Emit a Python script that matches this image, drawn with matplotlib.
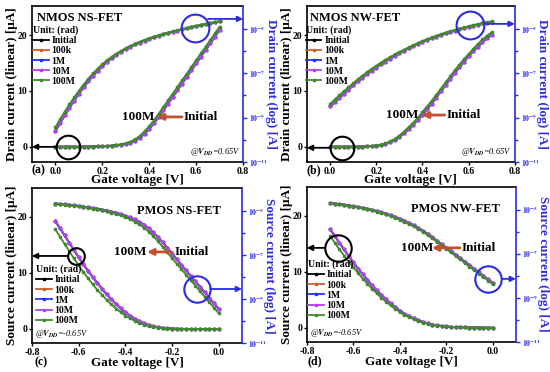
import numpy as np
import matplotlib
matplotlib.use("Agg")
import matplotlib.pyplot as plt
from matplotlib.ticker import FixedLocator, FuncFormatter, NullFormatter

plt.rcParams["font.family"] = "Liberation Serif"
plt.rcParams["font.weight"] = "bold"
plt.rcParams["mathtext.fontset"] = "stix"

# ================================
# Data
# ================================
series_labels = ["Initial", "100k", "1M", "10M", "100M"]
series_colors = ["#000000", "#c8602a", "#2030ff", "#b040f0", "#3f8a2c"]

vg_n = [0.00, 0.02, 0.04, 0.06, 0.08, 0.10, 0.12, 0.14, 0.16, 0.18, 0.20, 0.22,
        0.24, 0.26, 0.28, 0.30, 0.32, 0.34, 0.36, 0.38, 0.40, 0.42, 0.44, 0.46,
        0.48, 0.50, 0.52, 0.54, 0.56, 0.58, 0.60, 0.62, 0.64, 0.66, 0.68, 0.70]
vg_p = [-0.70, -0.68, -0.66, -0.64, -0.62, -0.60, -0.58, -0.56, -0.54, -0.52, -0.50, -0.48,
        -0.46, -0.44, -0.42, -0.40, -0.38, -0.36, -0.34, -0.32, -0.30, -0.28, -0.26, -0.24,
        -0.22, -0.20, -0.18, -0.16, -0.14, -0.12, -0.10, -0.08, -0.06, -0.04, -0.02, 0.00]

# linear current [uA], log values are log10 of current [A]
# (a) NMOS NS-FET
lin_a_init = [0, 0, 0, 0, 0, 0, 0.01, 0.02, 0.03, 0.05, 0.08, 0.12, 0.18, 0.26, 0.37, 0.5, 0.75, 1.1,
              1.6, 2.3, 3.2, 4.2, 5.3, 6.5, 7.7, 8.9, 10.1, 11.3, 12.5, 13.7, 14.9, 16.1, 17.3, 18.5, 19.7, 20.9]
lin_a_100m = [0, 0, 0, 0, 0, 0.01, 0.01, 0.02, 0.04, 0.07, 0.1, 0.15, 0.22, 0.31, 0.44, 0.62, 0.92, 1.35,
              1.95, 2.75, 3.7, 4.75, 5.9, 7.1, 8.3, 9.5, 10.7, 11.9, 13.1, 14.3, 15.5, 16.7, 17.9, 19.1, 20.3, 21.5]
log_a_init = [-9.62, -9.25, -8.90, -8.56, -8.24, -7.93, -7.64, -7.37, -7.12, -6.89, -6.68, -6.49,
              -6.32, -6.17, -6.03, -5.91, -5.80, -5.70, -5.61, -5.52, -5.44, -5.37, -5.30, -5.24,
              -5.18, -5.12, -5.07, -5.02, -4.97, -4.92, -4.87, -4.83, -4.78, -4.74, -4.70, -4.66]
log_a_100m = [-9.44, -9.08, -8.73, -8.40, -8.09, -7.79, -7.51, -7.25, -7.01, -6.79, -6.59, -6.41,
              -6.25, -6.11, -5.98, -5.86, -5.76, -5.66, -5.57, -5.49, -5.41, -5.34, -5.28, -5.22,
              -5.16, -5.10, -5.05, -5.00, -4.95, -4.90, -4.86, -4.81, -4.77, -4.73, -4.69, -4.65]

# (b) NMOS NW-FET
lin_b_init = [0, 0, 0, 0, 0, 0, 0.01, 0.03, 0.06, 0.12, 0.2, 0.32, 0.5, 0.8, 1.2, 1.7, 2.4, 3.1,
              3.9, 4.8, 5.7, 6.7, 7.7, 8.8, 9.9, 11.0, 12.1, 13.2, 14.2, 15.2, 16.2, 17.1, 17.9, 18.7, 19.4, 20.0]
lin_b_100m = [0, 0, 0, 0, 0, 0.01, 0.02, 0.04, 0.08, 0.15, 0.25, 0.4, 0.62, 0.95, 1.4, 2.0, 2.7, 3.5,
              4.3, 5.2, 6.2, 7.2, 8.2, 9.3, 10.4, 11.5, 12.6, 13.7, 14.7, 15.7, 16.6, 17.5, 18.4, 19.2, 19.9, 20.5]
log_b_init = [-8.50, -8.31, -8.12, -7.93, -7.74, -7.55, -7.37, -7.20, -7.04, -6.89, -6.74, -6.60,
              -6.47, -6.34, -6.22, -6.10, -5.99, -5.88, -5.78, -5.68, -5.59, -5.50, -5.42, -5.34,
              -5.27, -5.20, -5.13, -5.07, -5.01, -4.95, -4.90, -4.85, -4.80, -4.75, -4.71, -4.67]
log_b_100m = [-8.38, -8.19, -8.00, -7.81, -7.63, -7.45, -7.27, -7.11, -6.95, -6.80, -6.66, -6.52,
              -6.39, -6.27, -6.15, -6.04, -5.93, -5.83, -5.73, -5.63, -5.54, -5.46, -5.38, -5.30,
              -5.23, -5.16, -5.10, -5.04, -4.98, -4.93, -4.87, -4.82, -4.78, -4.73, -4.69, -4.65]

# (c) PMOS NS-FET
lin_c_init = [19.3, 18.0, 16.7, 15.4, 14.1, 12.8, 11.6, 10.4, 9.3, 8.2, 7.2, 6.2, 5.3, 4.5, 3.7, 3.0,
              2.4, 1.85, 1.4, 1.0, 0.7, 0.48, 0.32, 0.2, 0.12, 0.07, 0.04, 0.02, 0.01, 0, 0, 0, 0, 0, 0, 0]
lin_c_100m = [17.8, 16.5, 15.2, 13.9, 12.6, 11.4, 10.2, 9.1, 8.0, 7.0, 6.1, 5.2, 4.4, 3.65, 3.0, 2.4,
              1.9, 1.45, 1.05, 0.75, 0.52, 0.35, 0.23, 0.14, 0.08, 0.05, 0.03, 0.01, 0.01, 0, 0, 0, 0, 0, 0, 0]
log_c_init = [-4.67, -4.69, -4.71, -4.73, -4.755, -4.78, -4.81, -4.84, -4.87, -4.91, -4.95, -4.99,
              -5.04, -5.09, -5.15, -5.22, -5.30, -5.39, -5.50, -5.63, -5.80, -5.98, -6.19, -6.43,
              -6.69, -6.95, -7.20, -7.45, -7.70, -7.95, -8.20, -8.45, -8.70, -8.95, -9.20, -9.45]
log_c_100m = [-4.68, -4.70, -4.72, -4.745, -4.77, -4.80, -4.83, -4.86, -4.90, -4.94, -4.98, -5.03,
              -5.08, -5.14, -5.21, -5.29, -5.38, -5.49, -5.62, -5.77, -5.95, -6.15, -6.38, -6.63,
              -6.89, -7.15, -7.40, -7.65, -7.90, -8.15, -8.40, -8.65, -8.90, -9.15, -9.40, -9.65]

# (d) PMOS NW-FET
lin_d_init = [17.6, 16.4, 15.2, 14.0, 12.8, 11.7, 10.6, 9.6, 8.6, 7.6, 6.7, 5.9, 5.1, 4.4, 3.7, 3.1,
              2.55, 2.1, 1.7, 1.35, 1.05, 0.8, 0.6, 0.45, 0.33, 0.25, 0.18, 0.13, 0.1, 0.08, 0.06, 0.05,
              0.04, 0.03, 0.02, 0.02]
lin_d_100m = [16.4, 15.2, 14.0, 12.9, 11.8, 10.8, 9.8, 8.8, 7.9, 7.0, 6.2, 5.4, 4.7, 4.0, 3.4, 2.85,
              2.35, 1.9, 1.55, 1.2, 0.95, 0.72, 0.54, 0.4, 0.3, 0.22, 0.16, 0.12, 0.09, 0.07, 0.05, 0.04,
              0.03, 0.03, 0.02, 0.02]
log_d_init = [-4.70, -4.72, -4.75, -4.78, -4.81, -4.84, -4.88, -4.92, -4.96, -5.01, -5.06, -5.12,
              -5.18, -5.25, -5.33, -5.41, -5.50, -5.60, -5.71, -5.83, -5.96, -6.10, -6.25, -6.41,
              -6.57, -6.72, -6.88, -7.04, -7.20, -7.36, -7.52, -7.68, -7.84, -8.00, -8.16, -8.32]
log_d_100m = [-4.71, -4.73, -4.76, -4.79, -4.82, -4.86, -4.90, -4.94, -4.98, -5.03, -5.09, -5.15,
              -5.21, -5.29, -5.37, -5.45, -5.55, -5.65, -5.76, -5.88, -6.01, -6.15, -6.30, -6.46,
              -6.62, -6.78, -6.94, -7.10, -7.26, -7.42, -7.58, -7.74, -7.90, -8.06, -8.22, -8.38]

BLUE = "#2b2be0"
SHIFT_RED = "#c1502e"

# ================================
# Panel settings
# ================================
panels = [
    dict(rect=[0.058, 0.565, 0.384, 0.419], vg=vg_n,
         lin=(lin_a_init, lin_a_100m), log=(log_a_init, log_a_100m),
         xlim=(-0.1, 0.8), xticks=[0.0, 0.2, 0.4, 0.6, 0.8], ylim=(-2.7, 25.2),
         kind="Drain", name="NMOS NS-FET", name_xy=(0.025, 0.923), name_ha="left",
         leg_xy=(0.005, 0.875), vdd="@$V_{DD}$=0.65V", vdd_xy=(0.985, 0.06), vdd_ha="right",
         tag="(a)", tag_xy=(0.0, -0.055), xlab_y=-0.118,
         black=(0.171, 0.096, 17, 0.114), blue=(0.773, 0.859, 20, 0.834, 0.917),
         shift=(0.502, 0.711, 0.592, 0.80, 0.288)),
    dict(rect=[0.558, 0.565, 0.378, 0.419], vg=vg_n,
         lin=(lin_b_init, lin_b_100m), log=(log_b_init, log_b_100m),
         xlim=(-0.1, 0.8), xticks=[0.0, 0.2, 0.4, 0.6, 0.8], ylim=(-2.7, 25.2),
         kind="Drain", name="NMOS NW-FET", name_xy=(0.015, 0.923), name_ha="left",
         leg_xy=(-0.005, 0.875), vdd="@$V_{DD}$=0.65V", vdd_xy=(0.985, 0.06), vdd_ha="right",
         tag="(b)", tag_xy=(0.0, -0.055), xlab_y=-0.118,
         black=(0.168, 0.09, 17, 0.11), blue=(0.784, 0.878, 20, 0.856, 0.885),
         shift=(0.457, 0.663, 0.553, 0.755, 0.30)),
    dict(rect=[0.058, 0.078, 0.382, 0.417], vg=vg_p,
         lin=(lin_c_init, lin_c_100m), log=(log_c_init, log_c_100m),
         xlim=(-0.8, 0.1), xticks=[-0.8, -0.6, -0.4, -0.2, 0.0], ylim=(-2.5, 25.2),
         kind="Source", name="PMOS NS-FET", name_xy=(0.5, 0.85), name_ha="left",
         leg_xy=(0.02, 0.505), vdd="@$V_{DD}$=-0.65V", vdd_xy=(0.015, 0.06), vdd_ha="left",
         tag="(c)", tag_xy=(0.012, -0.125), xlab_y=-0.128,
         black=(0.21, 0.561, 12, 0.17), blue=(0.786, 0.348, 19, 0.848, 0.348),
         shift=(0.467, 0.667, 0.548, 0.762, 0.587)),
    dict(rect=[0.558, 0.081, 0.38, 0.417], vg=vg_p,
         lin=(lin_d_init, lin_d_100m), log=(log_d_init, log_d_100m),
         xlim=(-0.8, 0.1), xticks=[-0.8, -0.6, -0.4, -0.2, 0.0], ylim=(-2.5, 25.2),
         kind="Source", name="PMOS NW-FET", name_xy=(0.5, 0.858), name_ha="left",
         leg_xy=(0.005, 0.53), vdd="@$V_{DD}$=-0.65V", vdd_xy=(0.015, 0.055), vdd_ha="left",
         tag="(d)", tag_xy=(0.005, -0.125), xlab_y=-0.128,
         black=(0.148, 0.606, 19, 0.086), blue=(0.866, 0.406, 19, 0.933, 0.406),
         shift=(0.526, 0.732, 0.598, 0.823, 0.606)),
]


def log_label(v, pos):
    return r"$\mathbf{10^{%d}}$" % int(round(np.log10(v)))


def draw_panel(fig, p):
    ax = fig.add_axes(p["rect"])
    ax2 = ax.twinx()

    handles = []
    for label, color in zip(series_labels, series_colors):
        idx = 1 if label == "100M" else 0
        h, = ax.plot(p["vg"], p["lin"][idx], color=color, lw=1.3, marker="s", ms=2.0, label=label)
        ax2.plot(p["vg"], 10.0 ** np.array(p["log"][idx]), color=color, lw=1.3, marker="s", ms=2.0)
        handles.append(h)

    # linear axis
    ax.set_xlim(p["xlim"])
    ax.set_xticks(p["xticks"])
    ax.xaxis.set_major_formatter(FuncFormatter(lambda v, pos: f"{v:.1f}"))
    ax.set_ylim(p["ylim"])
    ax.set_yticks([0, 10, 20])
    ax.tick_params(labelsize=7, length=2.5, width=1, direction="out", pad=1)
    for s in ["left", "bottom", "top"]:
        ax.spines[s].set_linewidth(1.2)
    ax.spines["right"].set_visible(False)

    ax.set_xlabel("Gate voltage [V]", fontsize=9.5, fontweight="bold")
    ax.xaxis.set_label_coords(0.5, p["xlab_y"])
    ax.xaxis.label.set_va("center")
    ax.set_ylabel(p["kind"] + " current (linear) [\u03bcA]", fontsize=9.5, fontweight="bold")
    ax.yaxis.set_label_coords(-0.095, 0.5)
    ax.yaxis.label.set_va("center")

    # log axis
    ax2.set_yscale("log")
    ax2.set_ylim(1e-11, 1.1e-4)
    ax2.yaxis.set_major_locator(FixedLocator([1e-11, 1e-9, 1e-7, 1e-5]))
    ax2.yaxis.set_minor_locator(FixedLocator([1e-10, 1e-8, 1e-6]))
    ax2.yaxis.set_major_formatter(FuncFormatter(log_label))
    ax2.yaxis.set_minor_formatter(NullFormatter())
    ax2.tick_params(axis="y", which="both", colors=BLUE, labelsize=5.5, direction="out", width=1, pad=1.5)
    ax2.tick_params(axis="y", which="major", length=3)
    ax2.tick_params(axis="y", which="minor", length=2)
    for s in ["left", "bottom", "top"]:
        ax2.spines[s].set_visible(False)
    ax2.spines["right"].set_color(BLUE)
    ax2.spines["right"].set_linewidth(1.2)
    ax2.set_ylabel(p["kind"] + " current (log) [A]", color=BLUE, fontsize=9.5, fontweight="bold", rotation=270)
    ax2.yaxis.set_label_coords(1.13, 0.5)
    ax2.yaxis.label.set_va("center")

    # texts
    ax2.text(p["name_xy"][0], p["name_xy"][1], p["name"], transform=ax2.transAxes,
             ha=p["name_ha"], va="center", fontsize=9, fontweight="bold")
    ax2.text(p["vdd_xy"][0], p["vdd_xy"][1], p["vdd"], transform=ax2.transAxes,
             ha=p["vdd_ha"], va="center", fontsize=6, style="italic", fontweight="normal")
    ax.text(p["tag_xy"][0], p["tag_xy"][1], p["tag"], transform=ax.transAxes,
            ha="left", va="center", fontsize=8.5, fontweight="bold")

    ax2.legend(handles, series_labels, loc="upper left", bbox_to_anchor=p["leg_xy"],
               frameon=False, title="Unit: (rad)", alignment="left",
               prop=dict(family="Liberation Serif", weight="bold", size=7),
               title_fontproperties=dict(family="Liberation Serif", weight="bold", size=7),
               handlelength=1.6, handletextpad=0.3, labelspacing=0.12,
               borderpad=0, borderaxespad=0)

    # black circle + arrow to the linear axis
    bx, by, bms, bx0 = p["black"]
    ax2.plot([bx], [by], transform=ax2.transAxes, marker="o", ms=bms, mfc="none",
             mec="black", mew=1.5, clip_on=False)
    ax2.annotate("", xy=(0.0, by), xytext=(bx0, by), xycoords="axes fraction",
                 textcoords="axes fraction",
                 arrowprops=dict(arrowstyle="-|>", color="black", lw=1.3,
                                 mutation_scale=8, shrinkA=0, shrinkB=0))

    # blue circle + arrow to the log axis
    cx, cy, cms, cx0, cya = p["blue"]
    ax2.plot([cx], [cy], transform=ax2.transAxes, marker="o", ms=cms, mfc="none",
             mec=BLUE, mew=1.5, clip_on=False)
    ax2.annotate("", xy=(1.0, cya), xytext=(cx0, cya), xycoords="axes fraction",
                 textcoords="axes fraction",
                 arrowprops=dict(arrowstyle="-|>", color=BLUE, lw=1.3,
                                 mutation_scale=8, shrinkA=0, shrinkB=0))

    # radiation shift arrow
    tx, a0, a1, ix, sy = p["shift"]
    ax2.text(tx, sy, "100M", transform=ax2.transAxes, ha="center", va="center",
             fontsize=9.5, fontweight="bold")
    ax2.text(ix, sy, "Initial", transform=ax2.transAxes, ha="center", va="center",
             fontsize=9.5, fontweight="bold")
    ax2.annotate("", xy=(a1, sy), xytext=(a0, sy), xycoords="axes fraction",
                 textcoords="axes fraction",
                 arrowprops=dict(arrowstyle="-|>", color=SHIFT_RED, lw=2.0,
                                 mutation_scale=9, shrinkA=0, shrinkB=0))


fig = plt.figure(figsize=(5.5, 3.72), dpi=100)
for p in panels:
    draw_panel(fig, p)

fig.savefig("out.png", dpi=100)
